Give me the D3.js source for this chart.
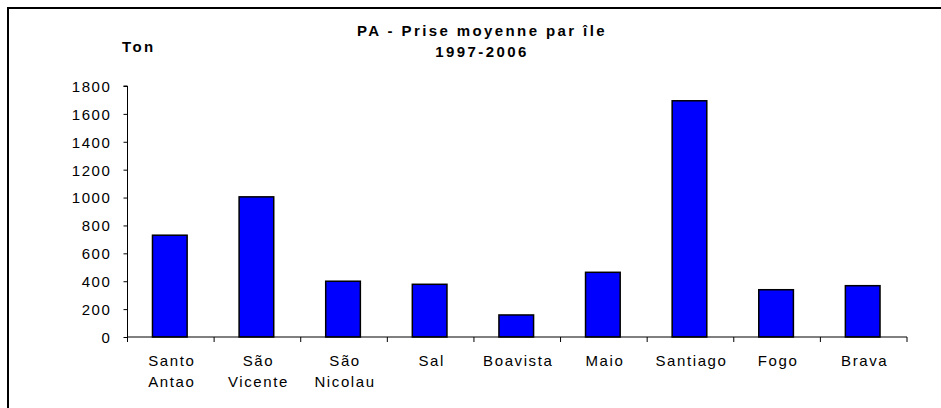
<!DOCTYPE html>
<html>
<head>
<meta charset="utf-8">
<script src="https://cdn.jsdelivr.net/npm/d3@7"></script>
<style>
  html, body { margin: 0; padding: 0; background: #fff; overflow: hidden; }
  svg { display: block; font-family: "Liberation Sans", Arial, sans-serif; }
</style>
</head>
<body>
<svg id="chart" width="941" height="408"></svg>
<script>
const categories = [["Santo", "Antao"], ["São", "Vicente"], ["São", "Nicolau"], ["Sal"], ["Boavista"], ["Maio"], ["Santiago"], ["Fogo"], ["Brava"]];
const values = [730, 1005, 400, 378, 158, 464, 1694, 339, 368];
const yTicks = [0, 200, 400, 600, 800, 1000, 1200, 1400, 1600, 1800];
const titleLines = ["PA - Prise moyenne par île", "1997-2006"];
const yLabel = "Ton";

const svg = d3.select("#chart");
const plotL = 127.5, plotR = 907, plotT = 86, plotB = 337;

// frame
svg.append("rect").attr("x", 8).attr("y", 8).attr("width", 1100).attr("height", 600)
  .attr("fill", "none").attr("stroke", "#000").attr("stroke-width", 2);

const keys = categories.map((c, i) => i);
const x = d3.scaleBand().domain(keys).range([plotL, plotR]).padding(0);
const y = d3.scaleLinear().domain([0, 1800]).range([plotB, plotT]);

// bars
const bw = x.bandwidth() * 0.4;
svg.append("g").selectAll("rect").data(values).join("rect")
  .attr("x", (d, i) => x(i) + x.bandwidth() / 2 - bw / 2 - 1)
  .attr("y", d => y(d))
  .attr("width", bw)
  .attr("height", d => y(0) - y(d))
  .attr("fill", "#0000ff")
  .attr("stroke", "#000")
  .attr("stroke-width", 1.5);

// y axis
const yAxis = d3.axisLeft(y).tickValues(yTicks).tickSize(4).tickPadding(12).tickFormat(d3.format("d"));
const gy = svg.append("g").attr("transform", `translate(${plotL},0)`).call(yAxis);
gy.select(".domain").attr("stroke", "#000").attr("d", `M-4,${plotT}H0V${plotB}`);
gy.selectAll(".tick line").attr("stroke", "#000");
gy.selectAll(".tick text").attr("font-size", 15).attr("fill", "#000")
  .attr("font-family", "Liberation Sans, Arial, sans-serif")
  .style("letter-spacing", "1.6px").attr("dy", "0.36em");

// x axis line and boundary ticks
svg.append("line").attr("x1", plotL).attr("x2", plotR).attr("y1", plotB).attr("y2", plotB)
  .attr("stroke", "#000").attr("stroke-width", 1);
const bounds = keys.map(k => x(k)).concat([plotR]);
svg.append("g").selectAll("line").data(bounds).join("line")
  .attr("x1", d => d).attr("x2", d => d)
  .attr("y1", plotB).attr("y2", plotB + 5)
  .attr("stroke", "#000");

// x labels
const xl = svg.append("g").selectAll("text").data(categories).join("text")
  .attr("text-anchor", "middle")
  .attr("font-size", 15)
  .attr("fill", "#000")
  .style("letter-spacing", "1.6px")
  .attr("transform", (d, i) => `translate(${x(i) + x.bandwidth() / 2 + 1},${plotB + 29})`);
xl.selectAll("tspan").data(d => d).join("tspan")
  .attr("x", 0)
  .attr("y", (d, i) => i * 21)
  .text(d => d);

// title
svg.append("g").selectAll("text").data(titleLines).join("text")
  .attr("x", 482).attr("y", (d, i) => 36 + i * 21)
  .attr("text-anchor", "middle")
  .attr("font-size", 15).attr("font-weight", "bold")
  .style("letter-spacing", "2.4px")
  .attr("fill", "#000")
  .text(d => d);

// y label
svg.append("text").attr("x", 122).attr("y", 52)
  .attr("font-size", 15).attr("font-weight", "bold")
  .style("letter-spacing", "2.4px")
  .attr("fill", "#000").text(yLabel);
</script>
</body>
</html>
